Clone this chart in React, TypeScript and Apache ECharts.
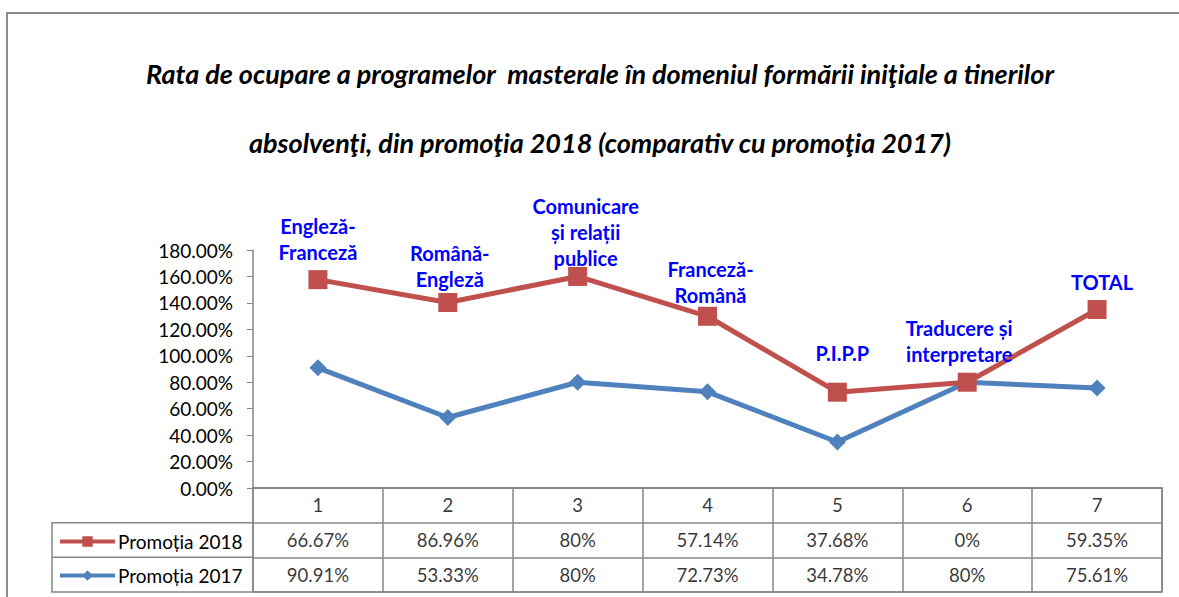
import React, { useEffect, useRef } from 'react';
import * as echarts from 'echarts';

const categories = ['1', '2', '3', '4', '5', '6', '7'];
const programNames = [
  'Engleză-\nFranceză',
  'Română-\nEngleză',
  'Comunicare\nși relații\npublice',
  'Franceză-\nRomână',
  'P.I.P.P',
  'Traducere și\ninterpretare',
  'TOTAL',
];
const promotia2018 = [66.67, 86.96, 80, 57.14, 37.68, 0, 59.35];
const promotia2017 = [90.91, 53.33, 80, 72.73, 34.78, 80, 75.61];
const seriesNames = ['Promoția 2018', 'Promoția 2017'];
const titleLines = [
  'Rata de ocupare a programelor  masterale în domeniul formării iniţiale a tinerilor',
  'absolvenţi, din promoţia 2018 (comparativ cu promoţia 2017)',
];

// label placement tweaks (style only)
const labelOffsets = [[0, 0], [2, 4], [8, 9], [3, 6], [5, -12], [-8, -1], [5, 0]];

const FONT = 'Lato, "Open Sans", "Liberation Sans", sans-serif';
const GRAY = '#868686';

const fmt = (v: number) => `${Number(v.toFixed(2))}%`;

export default function App() {
  const ref = useRef<HTMLDivElement>(null);
  useEffect(() => {
    const chart = echarts.init(ref.current!, null, { renderer: 'svg', width: 1179, height: 597 });

    const tableCells: any[] = [];
    categories.forEach((c, i) => {
      tableCells.push({ value: [i, 0], t: c });
      tableCells.push({ value: [i, 1], t: fmt(promotia2018[i]) });
      tableCells.push({ value: [i, 2], t: fmt(promotia2017[i]) });
    });

    const option: any = {
      animation: false,
      backgroundColor: '#fff',
      textStyle: { fontFamily: FONT },
      legend: {
        data: seriesNames,
        orient: 'vertical',
        left: 53,
        top: 527,
        itemWidth: 55,
        itemHeight: 13,
        itemGap: 15,
        lineStyle: { width: 4 },
        textStyle: { fontSize: 19, color: '#000', fontFamily: FONT, padding: [0, 0, 0, -2] },
      },
      grid: [
        { left: 253, top: 250, width: 909, height: 238, containLabel: false },
        { left: 253, top: 488, width: 909, height: 104, show: true, borderColor: GRAY, borderWidth: 1.5, containLabel: false },
      ],
      xAxis: [
        {
          type: 'category',
          gridIndex: 0,
          data: categories,
          boundaryGap: true,
          axisLine: { lineStyle: { color: GRAY, width: 1.5 } },
          axisTick: { show: false },
          axisLabel: { show: false },
          splitLine: { show: false },
        },
        {
          type: 'category',
          gridIndex: 1,
          data: categories,
          boundaryGap: true,
          axisLine: { show: false },
          axisTick: { show: false },
          axisLabel: { show: false },
          splitLine: { show: true, lineStyle: { color: GRAY, width: 1.5 } },
        },
      ],
      yAxis: [
        {
          type: 'value',
          gridIndex: 0,
          min: 0,
          max: 180,
          interval: 20,
          axisLine: { show: true, lineStyle: { color: GRAY, width: 1.5 } },
          axisTick: { show: true, length: 6, lineStyle: { color: GRAY } },
          axisLabel: {
            formatter: (v: number) => `${v.toFixed(2)}%`,
            fontSize: 19,
            color: '#000',
            margin: 20,
            fontFamily: FONT,
          },
          splitLine: { show: false },
        },
        {
          type: 'category',
          gridIndex: 1,
          data: ['h', 'r1', 'r2'],
          inverse: true,
          axisLine: { show: false },
          axisTick: { show: false },
          axisLabel: { show: false },
          splitLine: { show: true, lineStyle: { color: GRAY, width: 1.5 } },
        },
      ],
      series: [
        {
          name: seriesNames[1],
          type: 'line',
          stack: 'total',
          xAxisIndex: 0,
          yAxisIndex: 0,
          data: promotia2017,
          symbol: 'diamond',
          symbolSize: 17,
          lineStyle: { color: '#4F81BD', width: 5 },
          itemStyle: { color: '#4F81BD' },
          z: 3,
        },
        {
          name: seriesNames[0],
          type: 'line',
          stack: 'total',
          xAxisIndex: 0,
          yAxisIndex: 0,
          data: promotia2018.map((v, i) => ({
            value: v,
            label: { offset: labelOffsets[i] },
          })),
          symbol: 'rect',
          symbolSize: 19,
          lineStyle: { color: '#C0504D', width: 5 },
          itemStyle: { color: '#C0504D' },
          z: 4,
          label: {
            show: true,
            position: 'top',
            distance: 5,
            formatter: (p: any) => programNames[p.dataIndex],
            color: '#0000FF',
            fontWeight: 'bold',
            fontSize: 20,
            lineHeight: 26,
            align: 'center',
            fontFamily: FONT,
          },
        },
        {
          name: 'table',
          type: 'scatter',
          xAxisIndex: 1,
          yAxisIndex: 1,
          symbolSize: 1,
          itemStyle: { color: 'rgba(0,0,0,0)' },
          data: tableCells,
          silent: true,
          label: {
            show: true,
            position: 'inside',
            formatter: (p: any) => p.data.t,
            color: '#000',
            fontSize: 18.5,
            fontFamily: FONT,
          },
          z: 5,
        },
      ],
      graphic: [
        {
          type: 'rect',
          shape: { x: 7, y: 13, width: 1300, height: 700 },
          style: { fill: 'none', stroke: '#8c8c8c', lineWidth: 2 },
          silent: true,
        },
        {
          type: 'polyline',
          shape: { points: [[253, 522.7], [52, 522.7], [52, 592], [253, 592]] },
          style: { fill: 'none', stroke: GRAY, lineWidth: 1.5 },
          silent: true,
        },
        {
          type: 'line',
          shape: { x1: 52, y1: 557.3, x2: 253, y2: 557.3 },
          style: { stroke: GRAY, lineWidth: 1.5 },
          silent: true,
        },
        ...titleLines.map((t, i) => ({
          type: 'text',
          x: 600,
          y: i === 0 ? 73 : 142,
          style: {
            text: t,
            textAlign: 'center',
            textVerticalAlign: 'middle',
            fontSize: 27,
            fontWeight: 'bold',
            fontStyle: 'italic',
            fontFamily: FONT,
            fill: '#000',
          },
          silent: true,
        })),
      ],
    };
    chart.setOption(option);
    return () => chart.dispose();
  }, []);
  return (
    <div
      ref={ref}
      style={{ position: 'fixed', left: 0, top: 0, width: 1179, height: 597, background: '#fff' }}
    />
  );
}
